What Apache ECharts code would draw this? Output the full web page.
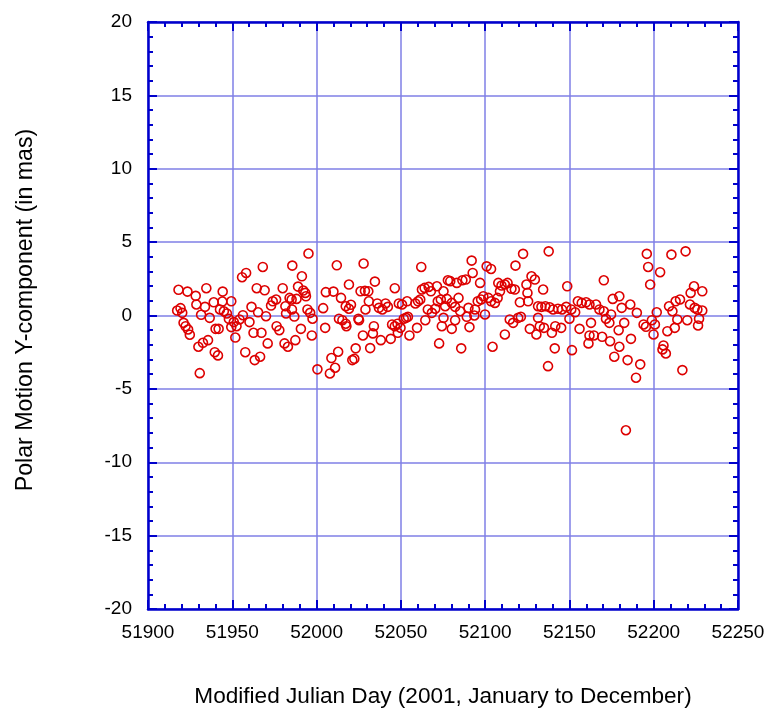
<!DOCTYPE html>
<html>
<head>
<meta charset="utf-8">
<script src="https://cdn.jsdelivr.net/npm/echarts@6/dist/echarts.min.js"></script>
<style>
html,body{margin:0;padding:0;background:#fff;}
#chart{width:769px;height:713px;}
</style>
</head>
<body>
<div id="chart"></div>
<script>
// Modified Julian Day of each observation
var mjd = [
51917.3,51918.1,51919.3,51920.3,51921.1,51922.3,51923.4,51923.8,51924.8,51928.3,
51928.7,51929.9,51930.7,51931.5,51932.6,51933.8,51934.6,51935.6,51936.6,51939.0,
51939.6,51940.1,51941.5,51941.9,51942.7,51944.1,51944.3,51945.0,51946.8,51948.0,
51949.4,51949.4,51950.9,51951.8,51952.5,51954.3,51955.8,51956.3,51957.7,51958.2,
51960.2,51961.4,51962.6,51963.3,51964.5,51965.3,51966.5,51967.3,51968.1,51969.2,
51970.0,51971.0,51973.0,51974.0,51976.0,51976.3,51977.9,51979.9,51981.0,51981.5,
51981.9,51983.0,51984.0,51985.2,51985.6,51985.4,51986.8,51987.4,51988.1,51989.0,
51990.7,51991.3,51992.1,51993.3,51993.7,51994.6,51995.2,51996.2,51997.2,51997.6,
52000.5,52003.9,52005.1,52005.5,52007.9,52008.8,52010.0,52011.0,52012.0,52012.8,
52013.3,52014.5,52015.3,52017.3,52017.3,52017.7,52019.2,52019.2,52020.4,52021.2,
52022.4,52023.2,52024.8,52025.2,52026.1,52027.5,52027.9,52028.7,52029.0,52030.7,
52031.0,52031.8,52033.4,52034.0,52034.6,52036.0,52037.0,52038.1,52039.0,52040.9,
52042.3,52044.0,52044.8,52046.4,52046.4,52048.0,52048.2,52048.8,52049.8,52050.7,
52051.7,52053.1,52053.7,52054.2,52055.1,52058.6,52059.6,52060.2,52061.5,52062.1,
52062.5,52064.1,52064.5,52066.0,52066.5,52067.8,52068.4,52070.4,52071.4,52071.9,
52072.7,52073.7,52074.3,52075.3,52075.3,52076.3,52077.3,52077.9,52079.3,52080.2,
52080.2,52082.2,52082.2,52083.2,52084.2,52085.2,52085.8,52086.5,52088.5,52089.1,
52090.1,52090.7,52092.0,52092.6,52093.6,52094.0,52095.6,52097.0,52097.6,52098.9,
52099.9,52100.9,52101.9,52103.5,52103.5,52104.4,52105.8,52107.4,52107.8,52108.8,
52109.7,52111.7,52111.7,52113.3,52114.6,52115.6,52116.6,52117.6,52118.0,52119.6,
52120.6,52121.2,52122.5,52124.5,52125.1,52125.5,52126.5,52127.5,52129.5,52130.4,
52131.4,52131.4,52132.4,52133.4,52134.4,52134.9,52135.7,52137.3,52137.7,52138.3,
52139.6,52140.3,52141.3,52141.6,52143.2,52145.1,52145.6,52148.1,52148.7,52150.0,
52151.1,52151.5,52153.4,52155.0,52156.0,52157.3,52159.9,52161.9,52161.9,52161.3,
52162.8,52164.5,52165.8,52167.8,52169.4,52170.4,52170.4,52171.7,52173.7,52174.1,
52174.7,52175.7,52176.6,52179.2,52179.6,52179.6,52181.0,52182.5,52183.5,52184.5,
52186.1,52186.5,52189.5,52190.0,52192.0,52194.0,52195.4,52195.9,52196.7,52197.9,
52198.9,52199.9,52200.7,52201.8,52203.8,52205.2,52205.8,52207.2,52208.1,52209.1,
52210.5,52211.1,52212.5,52213.0,52214.0,52215.6,52217.0,52218.9,52219.9,52221.5,
52221.9,52223.9,52224.3,52225.9,52226.3,52226.9,52228.8,52228.8
];
// Polar motion Y-component residual (mas)
var polarY = [
0.34,1.75,0.50,0.18,-0.50,-0.73,1.63,-0.95,-1.31,1.34,
0.75,-2.13,-3.93,0.05,-1.86,0.59,1.86,-1.68,-0.16,0.90,
-2.50,-0.91,-2.72,-0.91,0.41,0.95,1.63,0.29,0.14,-0.23,
0.97,-0.79,-0.45,-1.50,-0.73,-0.27,2.61,0.02,-2.50,2.90,
-0.45,0.59,-1.18,-3.04,1.86,0.22,-2.81,-1.18,3.31,1.72,
-0.05,-1.90,0.68,0.97,1.09,-0.73,-1.00,1.86,-1.90,0.63,
0.14,-2.13,1.20,1.09,3.40,0.41,-0.07,-1.68,1.13,1.97,
-0.91,2.67,1.70,1.54,1.31,0.41,4.22,0.18,-1.36,-0.22,
-3.67,0.50,-0.84,1.59,-3.95,-2.90,1.63,-3.56,3.42,-2.47,
-0.22,1.20,-0.32,0.63,-0.56,-0.73,0.46,2.11,0.73,-3.04,
-2.95,-2.24,-0.22,-0.32,1.65,-1.36,3.54,1.68,0.41,1.65,
0.97,-2.22,-1.22,-0.73,2.31,0.82,0.52,-1.68,0.41,0.82,
0.59,-1.59,-0.61,1.86,-0.73,-0.56,-1.18,0.82,-0.84,0.75,
-0.22,-0.16,0.97,-0.09,-1.36,0.82,-0.84,0.97,1.09,3.31,
1.77,1.88,-0.32,0.41,1.95,1.65,0.18,0.46,1.99,0.97,
-1.90,1.09,-0.73,1.65,-0.16,0.63,1.13,2.40,2.34,0.86,
-0.91,0.59,-0.32,2.22,1.20,0.29,-2.24,2.40,2.45,-0.09,
0.52,-0.79,3.74,2.90,0.00,0.41,0.97,2.22,1.09,1.31,
0.07,3.35,1.20,3.17,0.97,-2.13,0.86,1.20,2.22,1.65,
2.04,2.11,-1.29,2.22,-0.27,1.82,-0.50,1.77,3.40,-0.16,
0.90,-0.09,4.20,2.11,1.54,0.97,-0.91,2.67,2.45,-1.29,
0.63,-0.16,-0.73,0.59,1.77,-0.84,0.63,-3.45,4.37,0.56,
-1.18,0.41,-2.24,-0.73,0.46,-0.84,0.41,0.59,1.99,-0.22,
0.41,-2.36,0.22,0.97,-0.91,0.86,0.90,0.75,-1.36,-1.90,
-0.50,-1.36,0.75,0.41,-1.45,0.29,2.40,-0.22,-0.50,-1.75,
0.07,1.13,-2.81,-1.00,1.31,-2.13,0.52,-0.50,-7.82,-3.04,
0.75,-1.59,-4.24,0.18,-3.33,-0.61,-0.77,4.20,3.31,2.11,
-0.32,-1.29,-0.61,0.22,2.95,-2.31,-2.04,-2.59,-1.07,0.63,
4.15,0.29,-0.84,0.97,-0.27,1.09,-3.72,4.37,-0.32,0.75,
1.54,1.99,0.52,0.41,-0.68,-0.22,1.65,0.34
];
var xTickMin = 51900, xTickMax = 52250, xTickStep = 50;
var yTickMin = -20, yTickMax = 20, yTickStep = 5;
var xTitle = 'Modified Julian Day (2001, January to December)';
var yTitle = 'Polar Motion Y-component (in mas)';

var points = mjd.map(function (d, i) { return [d, polarY[i]]; });

var FONT = "'Liberation Sans', Arial, sans-serif";
var AXIS_BLUE = '#0000cc';
var GRID_BLUE = '#7f7fe6';

function mirrorAxis(pos, min, max, step) {
  return {
    type: 'value', position: pos, min: min, max: max, interval: step,
    axisLine: { show: true, onZero: false, lineStyle: { color: AXIS_BLUE, width: 2.5 } },
    axisTick: { show: true, inside: true, length: 9, lineStyle: { color: AXIS_BLUE, width: 2 } },
    minorTick: { show: true, splitNumber: 5, length: 5, lineStyle: { color: AXIS_BLUE, width: 2 } },
    axisLabel: { show: false },
    splitLine: { show: false }
  };
}

var chart = echarts.init(document.getElementById('chart'), null, { renderer: 'canvas' });
chart.setOption({
  animation: false,
  backgroundColor: '#ffffff',
  grid: { left: 148, right: 31, top: 22, bottom: 103, containLabel: false },
  xAxis: [
    {
      type: 'value', position: 'bottom', min: xTickMin, max: xTickMax, interval: xTickStep,
      name: xTitle, nameLocation: 'middle', nameGap: 76,
      nameTextStyle: { fontFamily: FONT, fontSize: 22.6, color: '#000' },
      axisLine: { show: true, onZero: false, lineStyle: { color: AXIS_BLUE, width: 2.5 } },
      axisTick: { show: true, inside: true, length: 9, lineStyle: { color: AXIS_BLUE, width: 2 } },
      minorTick: { show: true, splitNumber: 5, length: 5, lineStyle: { color: AXIS_BLUE, width: 2 } },
      axisLabel: { show: true, margin: 14, fontFamily: FONT, fontSize: 19, color: '#000',
        formatter: function (v) { return String(v); } },
      splitLine: { show: true, lineStyle: { color: GRID_BLUE, width: 1.5 } }
    },
    mirrorAxis('top', xTickMin, xTickMax, xTickStep)
  ],
  yAxis: [
    {
      type: 'value', position: 'left', min: yTickMin, max: yTickMax, interval: yTickStep,
      name: yTitle, nameLocation: 'middle', nameGap: 111,
      nameTextStyle: { fontFamily: FONT, fontSize: 23.2, color: '#000', padding: [0, 0, 0, 11] },
      axisLine: { show: true, onZero: false, lineStyle: { color: AXIS_BLUE, width: 2.5 } },
      axisTick: { show: true, inside: true, length: 9, lineStyle: { color: AXIS_BLUE, width: 2 } },
      minorTick: { show: true, splitNumber: 5, length: 5, lineStyle: { color: AXIS_BLUE, width: 2 } },
      axisLabel: { show: true, margin: 16, fontFamily: FONT, fontSize: 19, color: '#000',
        formatter: function (v) { return String(v); } },
      splitLine: { show: true, lineStyle: { color: GRID_BLUE, width: 1.5 } }
    },
    mirrorAxis('right', yTickMin, yTickMax, yTickStep)
  ],
  series: [{
    type: 'scatter',
    xAxisIndex: 0, yAxisIndex: 0,
    data: points,
    symbol: 'circle',
    symbolSize: 9,
    itemStyle: { color: 'rgba(0,0,0,0)', borderColor: '#dd0000', borderWidth: 1.6, opacity: 1 },
    emphasis: { disabled: true },
    z: 5
  }]
});
</script>
</body>
</html>
